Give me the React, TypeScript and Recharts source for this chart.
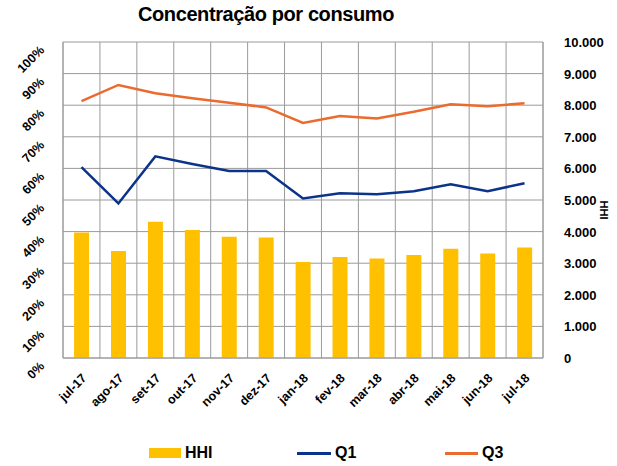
import React from 'react';
import { ComposedChart, Bar, Line, XAxis, YAxis, CartesianGrid, Legend } from 'recharts';

const categories = ['jul-17', 'ago-17', 'set-17', 'out-17', 'nov-17', 'dez-17', 'jan-18', 'fev-18', 'mar-18', 'abr-18', 'mai-18', 'jun-18', 'jul-18'];
const hhiValues = [3970, 3390, 4310, 4050, 3840, 3810, 3040, 3200, 3150, 3260, 3460, 3310, 3500];
const q1Values = [60.4, 48.9, 63.8, 61.4, 59.2, 59.2, 50.5, 52.1, 51.8, 52.8, 55.0, 52.8, 55.3];
const q3Values = [81.3, 86.4, 83.8, 82.2, 80.8, 79.3, 74.4, 76.6, 75.8, 77.9, 80.3, 79.7, 80.6];
const pctTicks = [0, 10, 20, 30, 40, 50, 60, 70, 80, 90, 100];
const hhiTicks = [0, 1000, 2000, 3000, 4000, 5000, 6000, 7000, 8000, 9000, 10000];

const data = categories.map((c, i) => ({ cat: c, HHI: hhiValues[i], Q1: q1Values[i], Q3: q3Values[i] }));

const FONT = '"Liberation Sans", Arial, sans-serif';
const BAR_COLOR = '#FFC000';
const Q1_COLOR = '#0B338A';
const Q3_COLOR = '#EB6A2D';
const GRID = '#9A9A9A';

const XTick = (props: any) => {
  const { x, y, payload } = props;
  return (
    <g transform={`translate(${x + 3},${y + 10})`}>
      <text textAnchor="end" transform="rotate(-45)" fontFamily={FONT} fontWeight="bold" fontSize={12.5} fill="#000" dy={4}>
        {payload.value}
      </text>
    </g>
  );
};

const LeftTick = (props: any) => {
  const { x, y, payload } = props;
  return (
    <g transform={`translate(${x - 10},${y + 9})`}>
      <text textAnchor="end" transform="rotate(-45)" fontFamily={FONT} fontWeight="bold" fontSize={12.5} fill="#000">
        {payload.value + '%'}
      </text>
    </g>
  );
};

const fmtThousands = (v: number) => String(v).replace(/\B(?=(\d{3})+(?!\d))/g, '.');

const RightTick = (props: any) => {
  const { x, y, payload } = props;
  return (
    <text x={x + 13} y={y + 5} textAnchor="start" fontFamily={FONT} fontWeight="bold" fontSize={13} fill="#000">
      {fmtThousands(payload.value)}
    </text>
  );
};

const HhiLabel = (props: any) => {
  const vb = props.viewBox || {};
  const cx = (vb.x || 0) + 57;
  const cy = (vb.y || 0) + (vb.height || 0) / 2 + 10;
  return (
    <text x={cx} y={cy} transform={`rotate(90, ${cx}, ${cy})`} textAnchor="middle" fontFamily={FONT} fontWeight="bold" fontSize={11} fill="#000">
      HHI
    </text>
  );
};

const LegendContent = () => {
  const item = (icon: React.ReactNode, label: string) => (
    <div style={{ width: 148, display: 'flex', alignItems: 'center' }}>
      {icon}
      <span style={{ marginLeft: 4, fontFamily: FONT, fontWeight: 'bold', fontSize: 16, color: '#000' }}>{label}</span>
    </div>
  );
  return (
    <div style={{ height: 26, display: 'flex', alignItems: 'center', paddingLeft: 149 }}>
      {item(<div style={{ width: 32, height: 10, background: BAR_COLOR }} />, 'HHI')}
      {item(<div style={{ width: 34, height: 3, background: Q1_COLOR }} />, 'Q1')}
      {item(<div style={{ width: 33, height: 3, background: Q3_COLOR }} />, 'Q3')}
    </div>
  );
};

export default function App() {
  return (
    <div style={{ position: 'absolute', left: 0, top: 0, width: 617, height: 466, background: '#fff' }}>
      <div style={{ position: 'absolute', left: 0, top: 3, width: 532, textAlign: 'center', fontFamily: FONT, fontWeight: 'bold', fontSize: 20, letterSpacing: -0.4, color: '#000', zIndex: 2 }}>
        Concentração por consumo
      </div>
      <ComposedChart width={617} height={466} data={data} margin={{ top: 42, right: 14, bottom: 0, left: 13 }} barCategoryGap="30%">
        <CartesianGrid
          stroke={GRID}
          strokeWidth={1}
          yAxisId="pct"
          verticalCoordinatesGenerator={({ offset }: any) =>
            Array.from({ length: categories.length + 1 }, (_, i) => offset.left + (i * offset.width) / categories.length)
          }
        />
        <XAxis dataKey="cat" height={82} tickLine={false} axisLine={{ stroke: GRID }} interval={0} tick={<XTick />} />
        <YAxis yAxisId="pct" orientation="left" width={50} domain={[0, 100]} ticks={pctTicks} interval={0} tickLine={false} axisLine={{ stroke: GRID }} tick={<LeftTick />} />
        <YAxis yAxisId="hhi" orientation="right" width={60} domain={[0, 10000]} ticks={hhiTicks} interval={0} tickLine={false} axisLine={{ stroke: GRID }} tick={<RightTick />} label={<HhiLabel />} />
        <Legend verticalAlign="bottom" align="left" content={<LegendContent />} wrapperStyle={{ left: 0, width: 617 }} />
        <Bar yAxisId="hhi" dataKey="HHI" fill={BAR_COLOR} isAnimationActive={false} />
        <Line yAxisId="pct" dataKey="Q1" stroke={Q1_COLOR} strokeWidth={2.5} dot={false} isAnimationActive={false} />
        <Line yAxisId="pct" dataKey="Q3" stroke={Q3_COLOR} strokeWidth={2.5} dot={false} isAnimationActive={false} />
      </ComposedChart>
    </div>
  );
}
